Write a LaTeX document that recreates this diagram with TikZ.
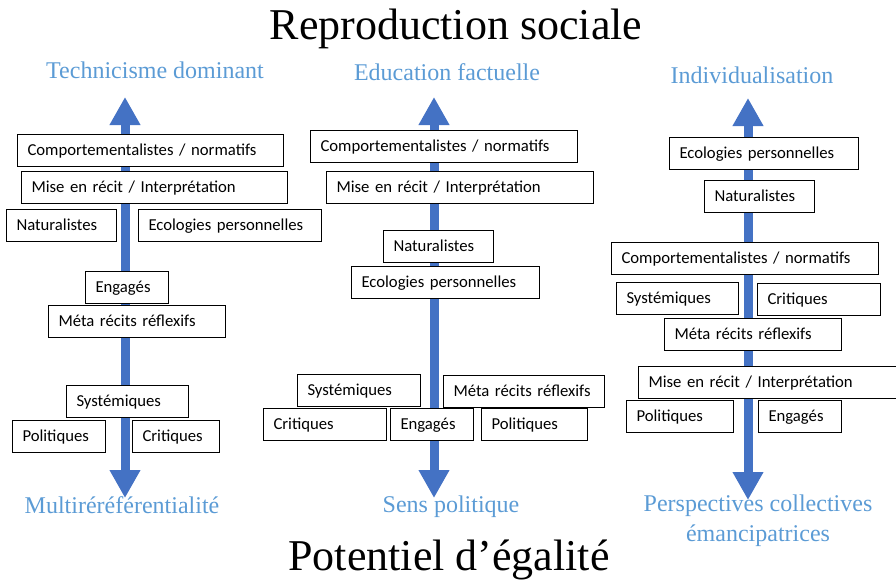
\documentclass[tikz,border=0pt]{standalone}
\usepackage{fontspec}
\setmainfont{Liberation Serif}
\newfontfamily\catfont{Carlito}
\usepackage{xcolor}
\usepackage{tikz}
\usetikzlibrary{arrows.meta}
\definecolor{axeblue}{HTML}{4472C4}
\definecolor{poleblue}{HTML}{5B9BD5}
\tikzset{
  cat/.style={draw, line width=1pt, fill=white, anchor=north west, minimum height=32pt,
    inner xsep=10pt, inner ysep=0pt, align=left, text width=#1,
    text height=12.5pt, text depth=2.5pt,
    font=\catfont\fontsize{16.7}{19}\selectfont},
  pole/.style={text=poleblue, anchor=base, font=\fontsize{24}{28}\selectfont},
  titre/.style={anchor=base, font=\fontsize{44}{50}\selectfont},
  axe/.style={draw=axeblue, line width=9pt,
    {Triangle[length=28pt,width=29pt]}-{Triangle[length=28pt,width=29pt]}}
}
\begin{document}
\begin{tikzpicture}[x=1pt,y=-1pt]
      \useasboundingbox (0,0) rectangle (896,581);
      \clip (0,0) rectangle (896,581);
      \coordinate (a1top) at (125,97);
      \coordinate (a1bot) at (125,498);
      \coordinate (a2top) at (434,97);
      \coordinate (a2bot) at (434,498);
      \coordinate (a3top) at (748,98);
      \coordinate (a3bot) at (748,500);
      \draw[axe] (a1top) -- (a1bot);
      \draw[axe] (a2top) -- (a2bot);
      \draw[axe] (a3top) -- (a3bot);

      \node[cat=246pt] (c1comp) at (17,134) {Comportementalistes / normatifs};
      \node[cat=246pt] (c1mise) at (21,171) {Mise en récit / Interprétation};
      \node[cat=90pt] (c1nat) at (6,209) {Naturalistes};
      \node[cat=163pt] (c1eco) at (138,209) {Ecologies personnelles};
      \node[cat=63pt] (c1eng) at (85,271) {Engagés};
      \node[cat=157pt] (c1meta) at (48,305) {Méta récits réflexifs};
      \node[cat=102pt] (c1sys) at (66,385) {Systémiques};
      \node[cat=73pt] (c1pol) at (12,420) {Politiques};
      \node[cat=67pt] (c1cri) at (132,420) {Critiques};

      \node[cat=247pt] (c2comp) at (310,130) {Comportementalistes / normatifs};
      \node[cat=247pt] (c2mise) at (326,171) {Mise en récit / Interprétation};
      \node[cat=90pt] (c2nat) at (383,230) {Naturalistes};
      \node[cat=168pt] (c2eco) at (351,266) {Ecologies personnelles};
      \node[cat=103pt] (c2sys) at (297,374) {Systémiques};
      \node[cat=141pt] (c2meta) at (443,375) {Méta récits réflexifs};
      \node[cat=103pt] (c2cri) at (263,408) {Critiques};
      \node[cat=63pt] (c2eng) at (390,408) {Engagés};
      \node[cat=86pt] (c2pol) at (481,408) {Politiques};

      \node[cat=169pt] (c3eco) at (669,137) {Ecologies personnelles};
      \node[cat=90pt] (c3nat) at (704,180) {Naturalistes};
      \node[cat=247pt] (c3comp) at (611,242) {Comportementalistes / normatifs};
      \node[cat=102pt] (c3sys) at (616,282) {Systémiques};
      \node[cat=103pt] (c3cri) at (757,283) {Critiques};
      \node[cat=157pt] (c3meta) at (664,318) {Méta récits réflexifs};
      \node[cat=250pt] (c3mise) at (638,366) {Mise en récit / Interprétation};
      \node[cat=87pt] (c3pol) at (626,400) {Politiques};
      \node[cat=63pt] (c3eng) at (758,400) {Engagés};

      \node[titre] (repro) at (456,39) {Reproduction sociale};
      \node[titre] (egal) at (449,570) {Potentiel d’égalité};
      \node[pole] (techn) at (155,78) {Technicisme dominant};
      \node[pole] (educ) at (447,80) {Education factuelle};
      \node[pole] (indiv) at (752,83) {Individualisation};
      \node[pole] (multi) at (122,513) {Multiréréférentialité};
      \node[pole] (sens) at (451,512) {Sens politique};
      \node[pole] (persp) at (758,511) {Perspectives collectives};
      \node[pole] (emanc) at (758,541) {émancipatrices};
\end{tikzpicture}
\end{document}
